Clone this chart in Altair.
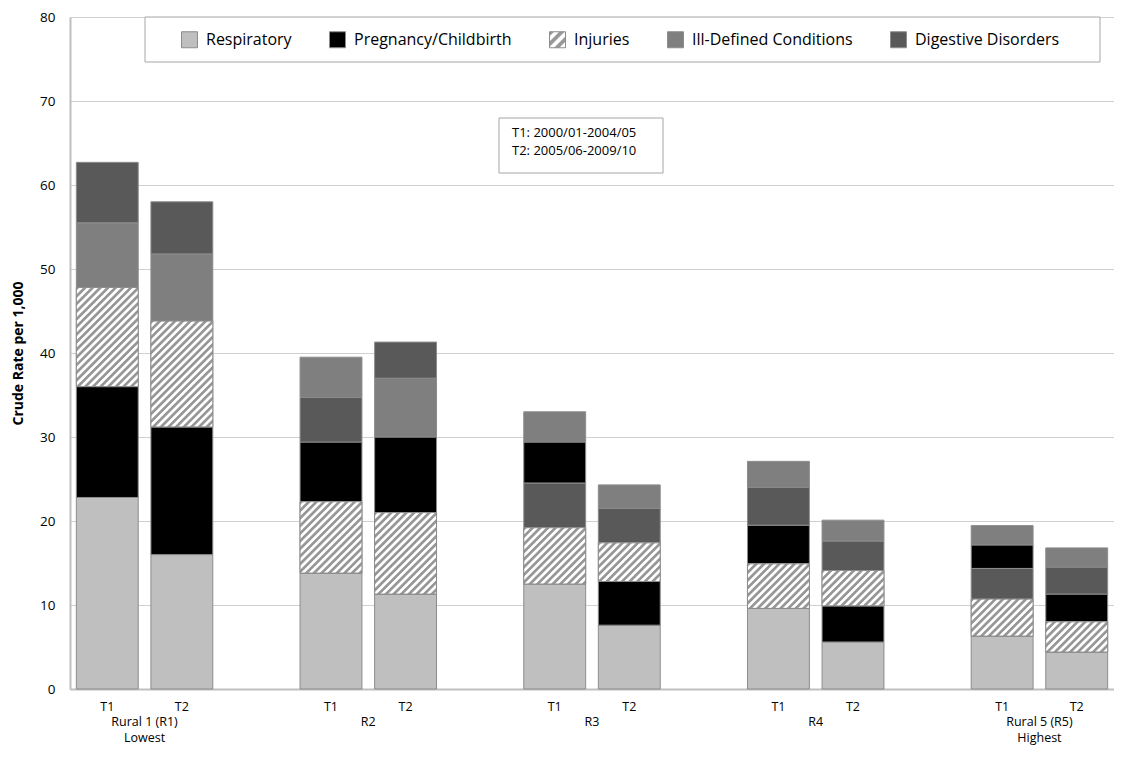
import math
import altair as alt
import pandas as pd

# ---------------- data ----------------
regions = ["R1", "R2", "R3", "R4", "R5"]
periods = ["T1", "T2"]
group_labels = ["Rural 1 (R1)\nLowest", "R2", "R3", "R4", "Rural 5 (R5)\nHighest"]
causes = ["Respiratory", "Pregnancy/Childbirth", "Injuries",
          "Ill-Defined Conditions", "Digestive Disorders"]

# order of bars: R1 T1, R1 T2, R2 T1, R2 T2, ... R5 T2
respiratory = [22.8, 16.0, 13.8, 11.3, 12.5, 7.6, 9.6, 5.6, 6.3, 4.4]
pregnancy = [13.2, 15.2, 7.1, 9.0, 4.9, 5.2, 4.6, 4.3, 2.8, 3.3]
injuries = [11.8, 12.6, 8.5, 9.7, 6.7, 4.6, 5.3, 4.2, 4.4, 3.6]
ill_defined = [7.7, 8.0, 4.8, 7.0, 3.6, 2.8, 3.1, 2.5, 2.3, 2.3]
digestive = [7.2, 6.2, 5.3, 4.3, 5.3, 4.1, 4.5, 3.5, 3.65, 3.2]

y_ticks = [0, 10, 20, 30, 40, 50, 60, 70, 80]
period_note = "T1: 2000/01-2004/05\nT2: 2005/06-2009/10"

# ---------------- tables ----------------
bars = [f"{r}|{p}" for r in regions for p in periods]
domain = []
for i, r in enumerate(regions):
    domain += [f"{r}|{p}" for p in periods]
    if i < len(regions) - 1:
        domain.append(f"gap{i}")

rows = []
for c, vals in zip(causes, [respiratory, pregnancy, injuries, ill_defined, digestive]):
    for b, v in zip(bars, vals):
        rows.append({"bar": b, "cause": c, "value": v})
df = pd.DataFrame(rows)
groups_df = pd.DataFrame({"bar": [f"{r}|T1" for r in regions], "label": group_labels})
one = pd.DataFrame({"a": [0]})

# ---------------- geometry / style ----------------
W, H = 1044, 672
TOP = 9
PI = 0.17
STEP = W / len(domain)
BW = STEP * (1 - PI)
FONT = "Open Sans"
EDGE = "#8c8c8c"
GRAY_HATCH = "#979797"


def stops_js(n):
    parts = []
    for i in range(n):
        b = i / n
        parts.append((b, GRAY_HATCH))
        parts.append((b + 0.34 / n, GRAY_HATCH))
        parts.append((b + 0.5 / n, "#ffffff"))
        parts.append((b + 0.84 / n, "#ffffff"))
    parts.append((1.0, GRAY_HATCH))
    return "[" + ",".join("{offset:%.5f,color:'%s'}" % (o, c) for o, c in parts) + "]"


PERIOD = 5.4
NP = 26
D = NP * PERIOD
K = math.sqrt(2) * D
grad_expr = (
    "{gradient:'linear',x1:0,y1:0,"
    f"x2:{K * BW:.4f}/({BW * BW:.4f}+datum.hp*datum.hp),"
    f"y2:{K:.4f}*datum.hp/({BW * BW:.4f}+datum.hp*datum.hp),"
    f"stops:{stops_js(NP)}}}"
)
legend_grad = "{gradient:'linear',x1:0,y1:0,x2:1,y2:1,stops:" + stops_js(3) + "}"

color_range = ["#bfbfbf", "#000000", {"expr": legend_grad}, "#7f7f7f", "#595959"]

xscale = alt.Scale(domain=domain, paddingInner=PI, paddingOuter=PI / 2)
xaxis = alt.Axis(
    title=None, labelExpr="split(datum.value,'|')[1] || ''", labelAngle=0,
    ticks=False, domainColor="#bfbfbf", domainWidth=2, labelFont=FONT,
    labelFontSize=12.5, labelColor="#000000", labelPadding=11, grid=False,
)
yscale = alt.Scale(domain=[0, 80], nice=False)
yaxis = alt.Axis(
    title="Crude Rate per 1,000", titleFont=FONT, titleFontSize=14,
    titleFontWeight="bold", titleColor="#000000", titlePadding=14,
    values=y_ticks, ticks=False, labelPadding=15, labelFont=FONT,
    labelFontSize=13.5, labelColor="#000000", gridColor="#d0d0d0",
    domainColor="#bfbfbf", domainWidth=2,
)

stacked = alt.Chart(df).transform_stack(
    stack="value", groupby=["bar"], as_=["y0", "y1"],
    sort=[alt.SortField("value", order="descending")],
)

box = alt.Chart(one).mark_rect(fill="white", stroke="#a6a6a6", strokeWidth=1).encode(
    x=alt.value(75), x2=alt.value(1030), y=alt.value(0), y2=alt.value(45)
)

main = stacked.mark_bar(stroke=EDGE, strokeWidth=1).encode(
    x=alt.X("bar:N", scale=xscale, axis=xaxis),
    y=alt.Y("y0:Q", scale=yscale, axis=yaxis),
    y2="y1:Q",
    color=alt.Color(
        "cause:N",
        scale=alt.Scale(domain=causes, range=color_range),
        legend=alt.Legend(
            title=None, orient="none", legendX=111, legendY=14,
            direction="horizontal", columns=5, columnPadding=35,
            symbolType="square", symbolSize=256, symbolStrokeColor=EDGE,
            symbolStrokeWidth=1, symbolOpacity=1, labelFont=FONT,
            labelFontSize=16, labelColor="#000000", labelOffset=8, padding=0,
            labelLimit=400,
        ),
    ),
)

hatch = stacked.transform_filter(
    alt.datum.cause == "Injuries"
).transform_calculate(
    hp=f"(datum.y1 - datum.y0) * {H / 80:.5f}"
).transform_calculate(
    grad=grad_expr
).mark_bar(stroke=EDGE, strokeWidth=1).encode(
    x=alt.X("bar:N", scale=xscale, axis=xaxis),
    y=alt.Y("y0:Q", scale=yscale, axis=yaxis),
    y2="y1:Q",
    fill=alt.Fill("grad:N", scale=None),
)

groups = alt.Chart(groups_df).mark_text(
    dx=STEP / 2, baseline="top", align="center", lineBreak="\n",
    font=FONT, fontSize=12.5, lineHeight=15.5, color="#000000",
).encode(
    x=alt.X("bar:N", scale=xscale, axis=xaxis),
    y=alt.value(H + 27),
    text="label:N",
)

note_box = alt.Chart(one).mark_rect(fill="white", stroke="#a6a6a6", strokeWidth=1).encode(
    x=alt.value(429), x2=alt.value(593), y=alt.value(101), y2=alt.value(156)
)
note_text = alt.Chart(one).mark_text(
    align="left", baseline="top", lineBreak="\n", font=FONT, fontSize=13,
    lineHeight=18, color="#000000",
).encode(x=alt.value(442), y=alt.value(110), text=alt.value(period_note))

chart = alt.layer(box, main, hatch, groups, note_box, note_text).properties(
    width=W, height=H,
    autosize=alt.AutoSizeParams(type="none"),
    padding={"left": 62, "top": TOP, "right": 0, "bottom": 741 - TOP - H},
).configure_view(stroke=None).configure(background="white")

chart.save("out.html", embed_options={"renderer": "svg", "actions": False})
